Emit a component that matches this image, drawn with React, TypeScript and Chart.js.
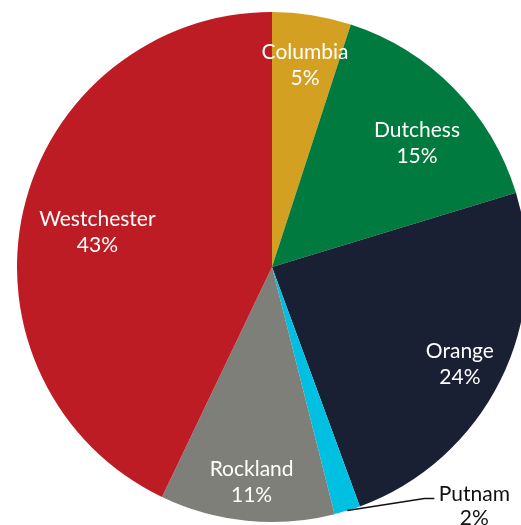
import React, { useEffect, useRef } from "react";
import { Chart, registerables } from "chart.js";

Chart.register(...registerables);

const counties = ["Columbia", "Dutchess", "Orange", "Putnam", "Rockland", "Westchester"];
const shares = [5.0, 15.3, 24.1, 1.65, 11.05, 42.9];
const sliceColors = ["#D3A021", "#007A3E", "#1A2034", "#00C0E2", "#7F7F79", "#BE1C24"];
const labelColors = ["#FFFFFF", "#FFFFFF", "#FFFFFF", "#111111", "#FFFFFF", "#FFFFFF"];
const labelRadius = [0.81, 0.753, 0.826, 1, 0.839, 0.7];
const labelAngleShift = [0.2, 3.5, 0.4, 0, -0.2, -0.8];

const labelPlugin = {
  id: "sliceLabels",
  afterDatasetsDraw(chart: any) {
    const ctx = chart.ctx;
    const meta = chart.getDatasetMeta(0);
    const data = chart.data.datasets[0].data as number[];
    const total = data.reduce((a: number, b: number) => a + b, 0);
    ctx.save();
    ctx.font = "21px Lato";
    ctx.textAlign = "center";
    ctx.textBaseline = "middle";
    meta.data.forEach((arc: any, i: number) => {
      const p = arc.getProps(["x", "y", "startAngle", "endAngle", "outerRadius"], true);
      const mid = (p.startAngle + p.endAngle) / 2 + (labelAngleShift[i] * Math.PI) / 180;
      const pct = Math.round((data[i] / total) * 100) + "%";
      const name = chart.data.labels[i];
      if (counties[i] === "Putnam") {
        const ex = p.x + Math.cos(mid) * p.outerRadius;
        const ey = p.y + Math.sin(mid) * p.outerRadius;
        const kx = ex + 77;
        const ky = ey - 12;
        ctx.strokeStyle = "#111111";
        ctx.lineWidth = 1.5;
        ctx.beginPath();
        ctx.moveTo(ex, ey);
        ctx.lineTo(kx, ky);
        ctx.lineTo(kx + 10, ky);
        ctx.stroke();
        ctx.fillStyle = labelColors[i];
        ctx.fillText(name, kx + 50, ky - 4);
        ctx.fillText(pct, kx + 50, ky + 20);
      } else {
        const r = p.outerRadius * labelRadius[i];
        const cx = p.x + Math.cos(mid) * r;
        const cy = p.y + Math.sin(mid) * r;
        ctx.fillStyle = labelColors[i];
        ctx.fillText(name, cx, cy - 11);
        ctx.fillText(pct, cx, cy + 15);
      }
    });
    ctx.restore();
  },
};

export default function App() {
  const ref = useRef<HTMLCanvasElement>(null);
  useEffect(() => {
    if (!ref.current) return;
    const chart = new Chart(ref.current, {
      type: "pie",
      data: {
        labels: counties,
        datasets: [
          {
            data: shares,
            backgroundColor: sliceColors,
            borderWidth: 0,
          },
        ],
      },
      options: {
        responsive: false,
        animation: false,
        layout: { padding: { left: 17, right: 17, top: 12, bottom: 12 } },
        plugins: {
          legend: { display: false },
          tooltip: { enabled: false },
        },
      },
      plugins: [labelPlugin],
    });
    return () => chart.destroy();
  }, []);
  return (
    <div
      style={{
        position: "absolute",
        left: 0,
        top: 0,
        width: 521,
        height: 525,
        overflow: "hidden",
        background: "#FFFFFF",
      }}
    >
      <canvas ref={ref} width={544} height={534} style={{ display: "block" }} />
    </div>
  );
}
